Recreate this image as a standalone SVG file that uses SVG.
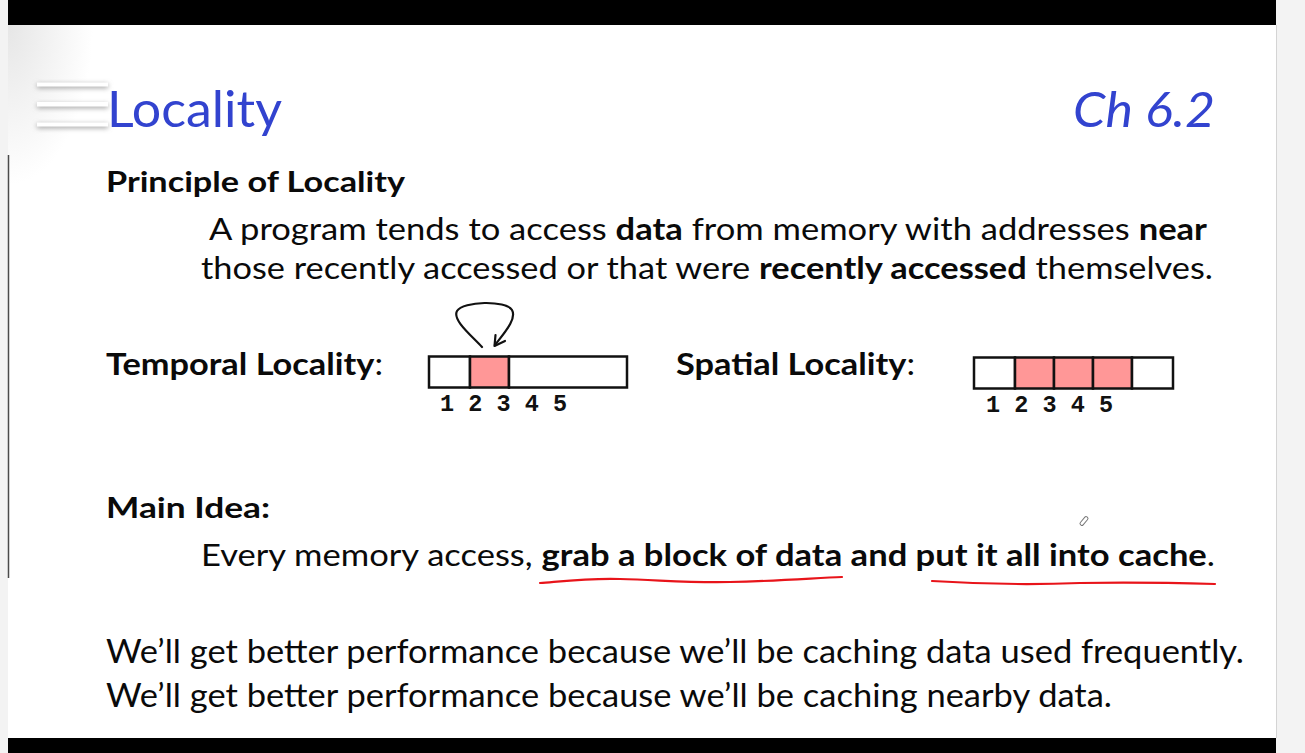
<svg xmlns="http://www.w3.org/2000/svg" width="1305" height="753" viewBox="0 0 1305 753">
  <defs>
    <style>
      .t { font-family: Lato, "Open Sans", "Liberation Sans", sans-serif; fill: #0a0a0a; }
      .b { font-weight: bold; }
      .blue { font-family: Lato, "Open Sans", "Liberation Sans", sans-serif; fill: #3243cf; }
      .mono { font-family: "Liberation Mono", "Courier New", monospace; font-weight: bold; font-size: 23px; fill: #111; }
      .cell { stroke: #111; stroke-width: 2.5; }
      .pink { fill: #ff9797; }
      .white { fill: #fff; }
      .red { fill: none; stroke: #e8141a; stroke-width: 2.2; stroke-linecap: round; }
      .bar { fill: #fff; }
    </style>
    <radialGradient id="corner" cx="0" cy="0" r="1" gradientUnits="userSpaceOnUse" gradientTransform="translate(8 25) scale(85 160)">
      <stop offset="0" stop-color="#e6e6e6"/>
      <stop offset="1" stop-color="#ffffff"/>
    </radialGradient>
    <filter id="sh" x="-20%" y="-150%" width="140%" height="400%">
      <feGaussianBlur stdDeviation="2.5"/>
    </filter>
  </defs>

  <!-- background -->
  <rect x="0" y="0" width="1305" height="753" fill="#f3f3f3"/>
  <rect x="8" y="25" width="1268" height="713" fill="#ffffff"/>
  <rect x="8" y="25" width="100" height="190" fill="url(#corner)"/>
  <rect x="8" y="0" width="1268" height="25" fill="#000"/>
  <rect x="8" y="738" width="1268" height="15" fill="#000"/>
  <line x1="1276.5" y1="25" x2="1276.5" y2="738" stroke="#d4d4d4" stroke-width="1"/>
  <line x1="8.5" y1="155" x2="8.5" y2="578" stroke="#4a4a4a" stroke-width="1.5"/>

  <!-- menu icon -->
  <g id="menu">
    <rect x="37" y="84" width="71" height="4" fill="#999" filter="url(#sh)"/>
    <rect x="37" y="104" width="71" height="4" fill="#999" filter="url(#sh)"/>
    <rect x="37" y="124" width="71" height="4" fill="#999" filter="url(#sh)"/>
    <rect class="bar" x="37" y="82.5" width="71" height="4"/>
    <rect class="bar" x="37" y="102" width="71" height="4.5"/>
    <rect class="bar" x="37" y="122.5" width="71" height="4"/>
  </g>

  <g id="title">
    <text class="blue" x="107" y="127" font-size="50" textLength="175" lengthAdjust="spacingAndGlyphs">Locality</text>
    <text class="blue" x="1073" y="127" font-size="48" font-style="italic" textLength="142" lengthAdjust="spacingAndGlyphs">Ch 6.2</text>
  </g>

  <g id="principle">
    <text class="t b" x="106" y="192" font-size="29" textLength="299" lengthAdjust="spacingAndGlyphs">Principle of Locality</text>
    <text class="t" x="209" y="240" font-size="30" textLength="998" lengthAdjust="spacingAndGlyphs">A program tends to access <tspan class="b">data</tspan> from memory with addresses <tspan class="b">near</tspan></text>
    <text class="t" x="201" y="279" font-size="30" textLength="1012" lengthAdjust="spacingAndGlyphs">those recently accessed or that were <tspan class="b">recently accessed</tspan> themselves.</text>
  </g>

  <g id="temporal">
    <text class="t" x="106" y="375" font-size="30" textLength="277" lengthAdjust="spacingAndGlyphs"><tspan class="b">Temporal Locality</tspan>:</text>
    <rect class="cell white" x="429" y="356.5" width="41" height="31"/>
    <rect class="cell pink" x="470" y="356.5" width="39" height="31"/>
    <rect class="cell white" x="509" y="356.5" width="118" height="31"/>
    <text class="mono" x="440" y="411" textLength="127" lengthAdjust="spacingAndGlyphs">1 2 3 4 5</text>
  </g>

  <g id="connectors">
    <path d="M482,347 C472,336 452,320 457,311 C463,301 506,300 512,310 C517,319 504,333 495,345" fill="none" stroke="#111" stroke-width="2.2" stroke-linecap="round"/>
    <path d="M495.5,335 L494.5,346 L505,341" fill="none" stroke="#111" stroke-width="2.2" stroke-linecap="round" stroke-linejoin="round"/>
  </g>

  <g id="spatial">
    <text class="t" x="676" y="375" font-size="30" textLength="239" lengthAdjust="spacingAndGlyphs"><tspan class="b">Spatial Locality</tspan>:</text>
    <rect class="cell white" x="974" y="357.5" width="41" height="31"/>
    <rect class="cell pink" x="1015" y="357.5" width="39" height="31"/>
    <rect class="cell pink" x="1054" y="357.5" width="39" height="31"/>
    <rect class="cell pink" x="1093" y="357.5" width="39" height="31"/>
    <rect class="cell white" x="1132" y="357.5" width="41" height="31"/>
    <text class="mono" x="986" y="412" textLength="127" lengthAdjust="spacingAndGlyphs">1 2 3 4 5</text>
  </g>

  <g id="mainidea">
    <text class="t b" x="106" y="518" font-size="29" textLength="164" lengthAdjust="spacingAndGlyphs">Main Idea:</text>
    <text class="t" x="201" y="566" font-size="30" textLength="1014" lengthAdjust="spacingAndGlyphs">Every memory access, <tspan class="b">grab a block of data and put it all into cache</tspan>.</text>
    <path class="red" d="M540,583 C565,581 590,578 620,579 C660,580 690,583 730,582 C780,581 815,578 842,577"/>
    <path class="red" d="M932,581 C980,584 1030,585 1080,583 C1130,582 1180,583 1215,584"/>
    <g id="pencil" transform="translate(1084 521) rotate(-50)">
      <rect x="-5" y="-1.8" width="10" height="3.6" rx="1.5" fill="#fff" stroke="#777" stroke-width="1"/>
    </g>
  </g>

  <g id="conclusion">
    <text class="t" x="106" y="663" font-size="32" textLength="1138" lengthAdjust="spacingAndGlyphs">We’ll get better performance because we’ll be caching data used frequently.</text>
    <text class="t" x="106" y="707" font-size="32" textLength="1006" lengthAdjust="spacingAndGlyphs">We’ll get better performance because we’ll be caching nearby data.</text>
  </g>
</svg>
